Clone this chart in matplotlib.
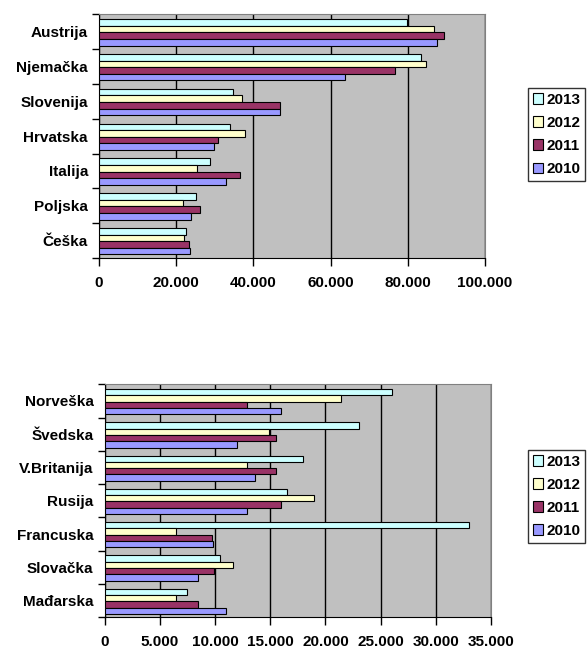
import numpy as np
import matplotlib
matplotlib.use("Agg")
from matplotlib import pyplot as plt
from matplotlib.ticker import FuncFormatter, FixedLocator

plt.rcParams['font.family'] = ['Liberation Sans', 'DejaVu Sans']
plt.rcParams['font.weight'] = 'bold'

years = ['2013', '2012', '2011', '2010']
colors = ['#CCFFFF', '#FFFFCC', '#993366', '#9999FF']

# top chart
countries_top = ['Austrija', 'Njemačka', 'Slovenija', 'Hrvatska', 'Italija', 'Poljska', 'Češka']
top_2013 = [79800, 83400, 34800, 33900, 28700, 25100, 22600]
top_2012 = [86700, 84800, 37000, 37900, 25400, 21800, 22000]
top_2011 = [89400, 76800, 46900, 30800, 36600, 26200, 23200]
top_2010 = [87600, 63600, 46900, 29900, 33000, 23800, 23600]

# bottom chart
countries_bot = ['Norveška', 'Švedska', 'V.Britanija', 'Rusija', 'Francuska', 'Slovačka', 'Mađarska']
bot_2013 = [26000, 23000, 18000, 16500, 33000, 10450, 7500]
bot_2012 = [21400, 14900, 12900, 19000, 6450, 11600, 6450]
bot_2011 = [12900, 15500, 15500, 16000, 9700, 9950, 8500]
bot_2010 = [16000, 12000, 13600, 12900, 9800, 8500, 11000]


def thousands(v, pos):
    return '{:,.0f}'.format(v).replace(',', '.')


def draw(ax, cats, series, xmax, step, legend_top):
    ax.set_facecolor('#C0C0C0')
    y = np.arange(len(cats))
    h = 0.19
    for k, vals in enumerate(series):
        ax.barh(y + (k - 1.5) * h + 0.02, vals, height=h, color=colors[k],
                edgecolor='black', linewidth=0.8, zorder=3, label=years[k])
    ax.set_xlim(0, xmax)
    ax.set_ylim(len(cats) - 0.5, -0.5)
    ax.set_xticks(np.arange(0, xmax + 1, step))
    ax.xaxis.set_major_formatter(FuncFormatter(thousands))
    ax.grid(axis='x', color='black', linewidth=1, zorder=1)
    ax.set_yticks(y)
    ax.set_yticklabels(cats)
    ax.yaxis.set_minor_locator(FixedLocator(np.arange(-0.5, len(cats), 1)))
    ax.tick_params(axis='y', which='major', length=0, pad=8, labelsize=11)
    ax.tick_params(axis='y', which='minor', length=5, width=1)
    ax.tick_params(axis='x', length=6, width=1, pad=7, labelsize=11)
    for lab in ax.get_xticklabels() + ax.get_yticklabels():
        lab.set_fontweight('bold')
    ax.spines['left'].set_color('black')
    ax.spines['bottom'].set_color('black')
    ax.spines['top'].set_color('#808080')
    ax.spines['right'].set_color('#808080')
    leg = ax.legend(loc='upper left', bbox_to_anchor=(0.898, legend_top),
                    bbox_transform=ax.figure.transFigure, frameon=True,
                    fancybox=False, edgecolor='black', handlelength=0.7,
                    handleheight=0.7, handletextpad=0.2, labelspacing=0.6,
                    borderpad=0.3, borderaxespad=0,
                    prop={'weight': 'bold', 'size': 11})
    leg.get_frame().set_linewidth(1)


fig = plt.figure(figsize=(5.88, 6.48), dpi=100)
ax1 = fig.add_axes([0.1684, 0.6019, 0.6565, 0.376])
draw(ax1, countries_top, [top_2013, top_2012, top_2011, top_2010], 100000, 20000, 0.864)

ax2 = fig.add_axes([0.178, 0.0474, 0.657, 0.3596])
draw(ax2, countries_bot, [bot_2013, bot_2012, bot_2011, bot_2010], 35000, 5000, 0.3056)

fig.savefig('out.png', dpi=100)
